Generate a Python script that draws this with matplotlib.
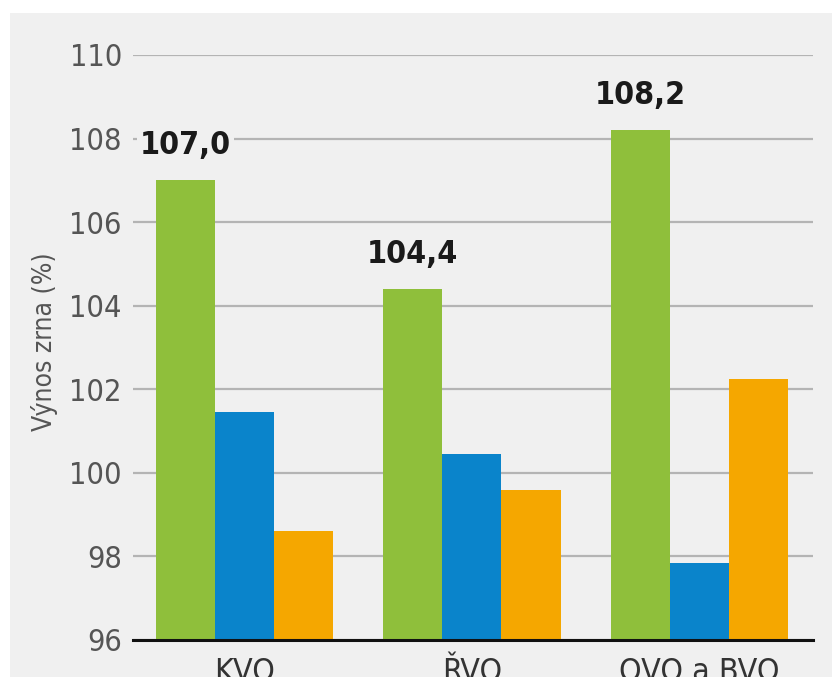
import matplotlib.pyplot as plt
import numpy as np
from matplotlib.patches import Rectangle

categories = ['KVO', 'ŘVO', 'OVO a BVO']
green_vals = [107.0, 104.4, 108.2]
blue_vals = [101.45, 100.45, 97.85]
orange_vals = [98.6, 99.6, 102.25]
value_labels = ['107,0', '104,4', '108,2']
yticks = [96, 98, 100, 102, 104, 106, 108, 110]

GREEN = '#8fbf3b'
BLUE = '#0a84cb'
ORANGE = '#f5a700'
BG = '#f0f0f0'

W, H = 832, 681
fig = plt.figure(figsize=(W / 100, H / 100), dpi=100)
fig.patch.set_facecolor('white')

# grey panel behind the chart, white strip at the bottom cuts the labels
fig.add_artist(Rectangle((10 / W, 4 / H), 1 - 10 / W, (677 - 13) / H,
                         transform=fig.transFigure, facecolor=BG,
                         edgecolor='none', zorder=-5))
fig.add_artist(Rectangle((0, 0), 1, 4 / H, transform=fig.transFigure,
                         facecolor='white', edgecolor='none', zorder=20))

ax = fig.add_axes([133 / W, 1 - 640 / H, 680 / W, 585 / H])
ax.set_facecolor('none')

x = np.arange(len(categories))
bw = 0.26
ax.bar(x - bw, np.array(green_vals) - 96, bw, bottom=96, color=GREEN, zorder=3)
ax.bar(x, np.array(blue_vals) - 96, bw, bottom=96, color=BLUE, zorder=3)
ax.bar(x + bw, np.array(orange_vals) - 96, bw, bottom=96, color=ORANGE, zorder=3)

for xi, v, lab in zip(x - bw, green_vals, value_labels):
    ax.annotate(lab, (xi, v), xytext=(0, 19), textcoords='offset points',
                ha='center', va='baseline', fontsize=23, fontweight='bold',
                family='DejaVu Sans', stretch='condensed', color='#1a1a1a',
                zorder=5, bbox=dict(facecolor=BG, edgecolor='none', pad=2))

ax.set_xlim(-0.49, 2.5)
ax.set_ylim(96, 110)
ax.set_yticks(yticks)
ax.set_yticklabels([str(t) for t in yticks], family='DejaVu Sans',
                   stretch='condensed', fontsize=22, color='#555555')
ax.set_xticks(x)
ax.set_xticklabels(categories, family='DejaVu Sans', stretch='condensed',
                   fontsize=23, color='#333333')
ax.tick_params(axis='y', length=0, pad=8)
ax.tick_params(axis='x', length=0, pad=12)

ax.grid(axis='y', color='#b4b4b4', linewidth=1.6, zorder=0)
ax.set_axisbelow(True)
for side in ['top', 'right', 'left']:
    ax.spines[side].set_visible(False)
ax.spines['bottom'].set_linewidth(2.2)
ax.spines['bottom'].set_color('#111111')
ax.spines['bottom'].set_zorder(4)

ax.set_ylabel('Výnos zrna (%)', family='DejaVu Sans', stretch='condensed',
              fontsize=19, color='#555555')
ax.yaxis.set_label_coords((58 - 133) / 680, (640 - 342) / 585)

fig.savefig('out.png', dpi=100, facecolor=fig.get_facecolor())
